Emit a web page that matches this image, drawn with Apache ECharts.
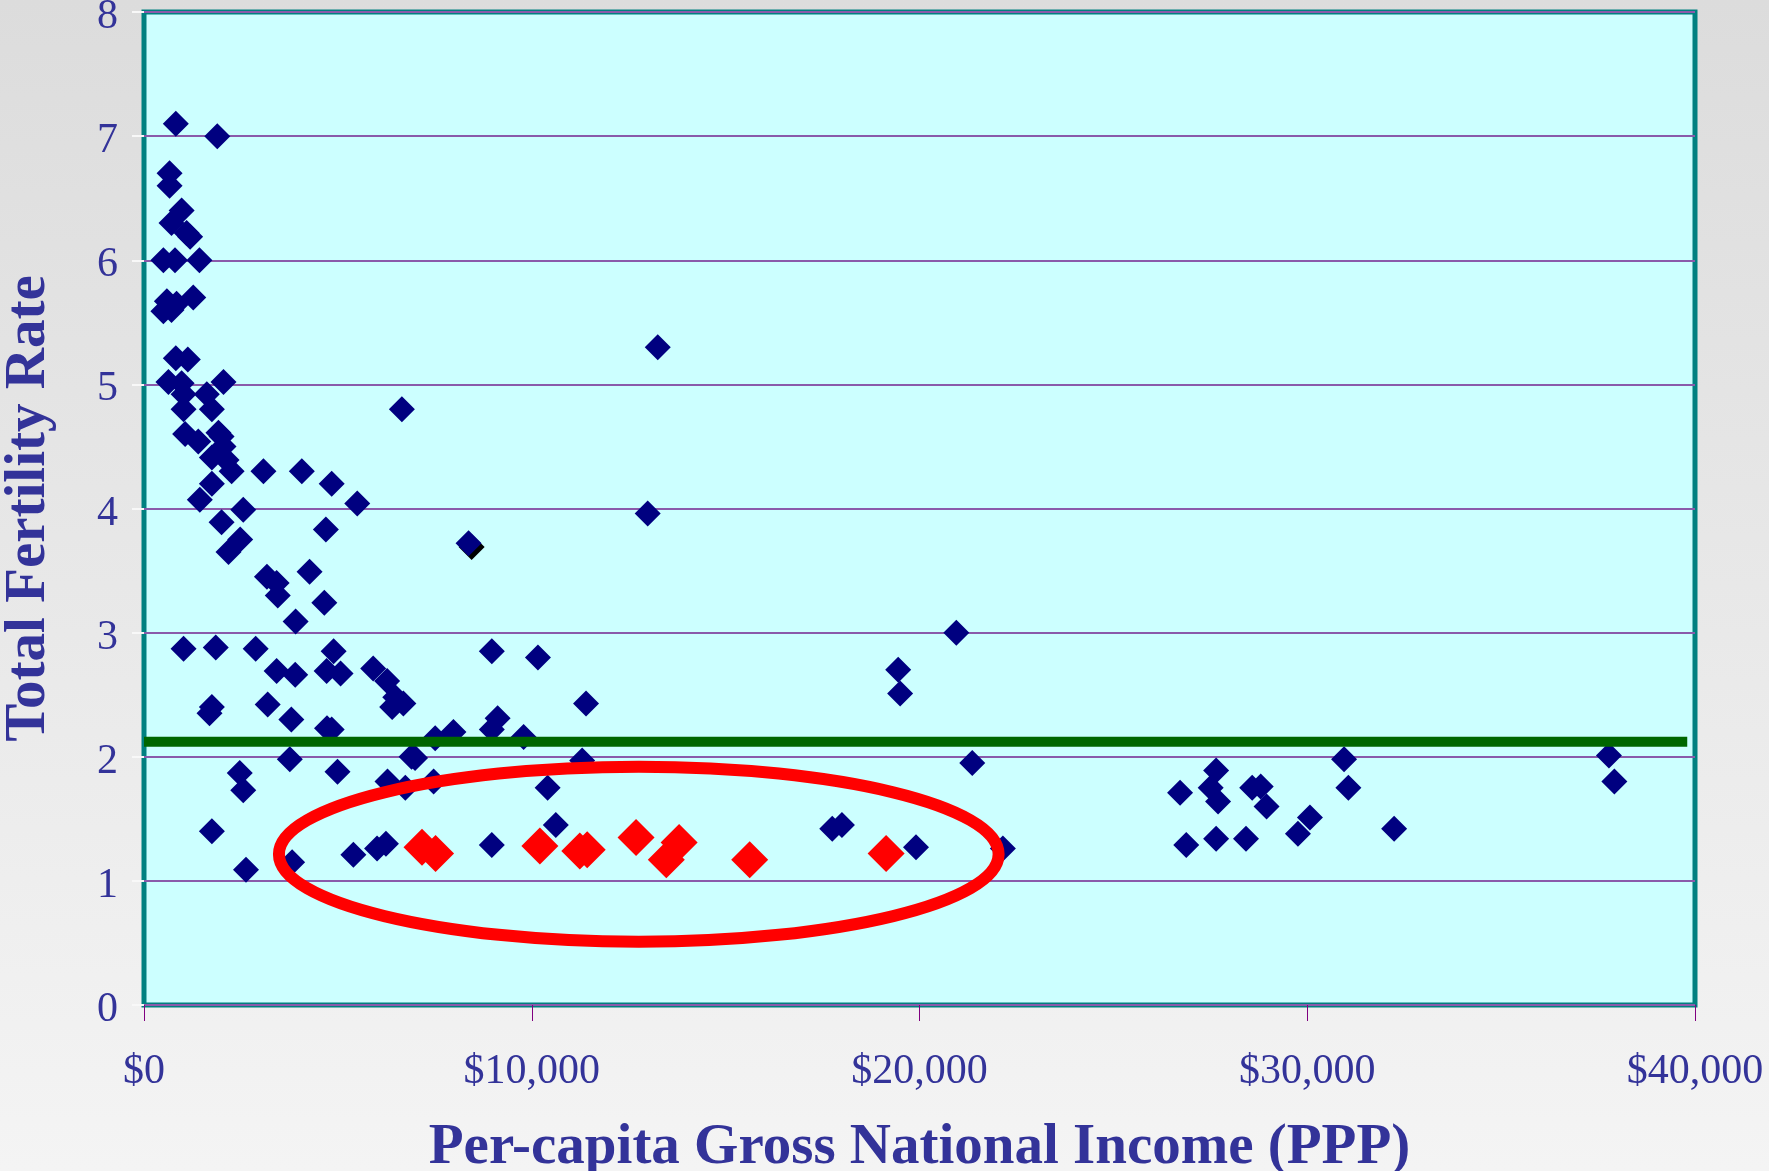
<!DOCTYPE html>
<html>
<head>
<meta charset="utf-8">
<title>Total Fertility Rate vs Per-capita GNI</title>
<script src="https://cdn.jsdelivr.net/npm/echarts@6/dist/echarts.min.js"></script>
<style>
  html, body { margin: 0; padding: 0; }
  #chart { width: 1769px; height: 1171px; }
</style>
</head>
<body>
<div id="chart"></div>
<script>
// [per-capita GNI (PPP, $), total fertility rate]
const countries = [
  [820, 7.1], [1890, 7.0], [660, 6.7], [660, 6.6],
  [970, 6.4], [710, 6.3], [1100, 6.22], [1190, 6.19],
  [500, 6.0], [800, 6.0], [1430, 6.0],
  [590, 5.67], [840, 5.65], [1270, 5.7], [500, 5.59], [710, 5.6],
  [820, 5.21], [1130, 5.2], [630, 5.02], [970, 5.01], [2050, 5.02],
  [1020, 4.92], [1620, 4.92], [1020, 4.8], [1750, 4.8], [6650, 4.8],
  [1060, 4.6], [1400, 4.54], [1920, 4.61], [2000, 4.58], [2050, 4.5],
  [1750, 4.41], [2130, 4.39], [2260, 4.3], [3080, 4.3], [4070, 4.3],
  [4840, 4.2], [1750, 4.2], [1440, 4.07], [5500, 4.04], [2560, 3.99],
  [2000, 3.89], [4690, 3.83], [2480, 3.75], [2180, 3.65], [8370, 3.72],
  [3170, 3.45], [3420, 3.4], [3450, 3.3], [4270, 3.49], [4650, 3.24], [3910, 3.09],
  [1020, 2.87], [1850, 2.88], [2880, 2.87], [4890, 2.85], [3420, 2.69],
  [3900, 2.66], [4710, 2.69], [5070, 2.67], [5910, 2.71], [6270, 2.61],
  [6480, 2.48], [6690, 2.43], [6400, 2.4],
  [1750, 2.4], [1690, 2.35], [3190, 2.42], [3800, 2.3], [4720, 2.23], [4840, 2.22],
  [8970, 2.85], [10160, 2.8], [11400, 2.43], [9120, 2.31], [8970, 2.22],
  [9790, 2.16], [7510, 2.15], [7980, 2.2],
  [3760, 1.98], [6900, 2.0], [6990, 1.99], [2470, 1.87], [2560, 1.73],
  [4990, 1.88], [6280, 1.8], [6740, 1.75], [7470, 1.8], [10410, 1.75], [11300, 1.97],
  [1750, 1.4], [2630, 1.09], [3820, 1.15], [5400, 1.21], [6010, 1.26],
  [6240, 1.3], [8970, 1.29], [10620, 1.45],
  [13250, 5.3], [12990, 3.96],
  [17750, 1.42], [18000, 1.45], [19450, 2.7], [19500, 2.51], [20950, 3.0],
  [21360, 1.95], [19910, 1.27], [22150, 1.26],
  [26720, 1.71], [27650, 1.89], [27510, 1.75], [27700, 1.64], [28580, 1.75],
  [28800, 1.76], [28950, 1.6], [26880, 1.29], [27650, 1.34], [28420, 1.34],
  [29760, 1.38], [30070, 1.51], [30950, 1.98], [31060, 1.75], [32240, 1.42],
  [37780, 2.01], [37920, 1.8],
]
const shadowPoint = [[8450, 3.69]]
const highlighted = [
  [7170, 1.27], [7520, 1.22], [10210, 1.28], [11240, 1.24], [11430, 1.25],
  [12690, 1.35], [13800, 1.31], [13470, 1.17], [15620, 1.17], [19140, 1.22],
]
const replacementRate = 2.12
const replacementSpan = [0, 39800]
// ellipse around the highlighted group, in data units
const ellipseBox = { left: 3480, right: 22040, top: 1.92, bottom: 0.51 }

const textColor = '#333399'
const fontFamily = "'Liberation Serif', 'Times New Roman', serif"

const chart = echarts.init(document.getElementById('chart'))

chart.setOption({
  animation: false,
  backgroundColor: {
    type: 'linear', x: 0, y: 0, x2: 0, y2: 1,
    colorStops: [
      { offset: 0, color: '#DCDCDC' },
      { offset: 1, color: '#F4F4F4' },
    ],
  },
  grid: {
    left: 144,
    top: 12,
    right: 74,
    bottom: 166,
    show: true,
    backgroundColor: '#CCFFFF',
    borderColor: '#008080',
    borderWidth: 5,
    outerBoundsMode: 'none',
  },
  xAxis: {
    type: 'value',
    min: 0,
    max: 40000,
    interval: 10000,
    name: 'Per-capita Gross National Income (PPP)',
    nameLocation: 'middle',
    nameGap: 115,
    nameTextStyle: { color: textColor, fontFamily, fontWeight: 'bold', fontSize: 57 },
    axisLine: { show: false },
    axisTick: { show: true, length: 16, lineStyle: { color: '#800080', width: 1 } },
    splitLine: { show: false },
    axisLabel: {
      color: textColor,
      fontFamily,
      fontSize: 42,
      margin: 46,
      formatter: (v) => '$' + v.toLocaleString('en-US'),
    },
  },
  yAxis: {
    type: 'value',
    min: 0,
    max: 8,
    interval: 1,
    name: 'Total Fertility Rate',
    nameLocation: 'middle',
    nameRotate: 90,
    nameGap: 86,
    nameTextStyle: { color: textColor, fontFamily, fontWeight: 'bold', fontSize: 57 },
    axisLine: { show: false },
    axisTick: { show: true, length: 12, lineStyle: { color: '#F8F8F8', width: 2 } },
    splitLine: { show: true, lineStyle: { color: '#8A5AAA', width: 2 } },
    axisLabel: {
      margin: 26,
      formatter: (v) => '{n|' + v + '}',
      rich: {
        n: { color: textColor, fontFamily, fontSize: 42, padding: [10, 0, 0, 0] },
      },
    },
  },
  series: [
    {
      name: 'shadow',
      type: 'scatter',
      symbol: 'diamond',
      symbolSize: 26,
      itemStyle: { color: '#000000', opacity: 1 },
      data: shadowPoint,
      z: 2,
    },
    {
      name: 'countries',
      type: 'scatter',
      symbol: 'diamond',
      symbolSize: 26,
      itemStyle: { color: '#000080', opacity: 1 },
      data: countries,
      z: 3,
    },
    {
      name: 'highlighted',
      type: 'scatter',
      symbol: 'diamond',
      symbolSize: 37,
      itemStyle: { color: '#FF0000', opacity: 1 },
      data: highlighted,
      z: 4,
    },
    {
      name: 'replacement',
      type: 'line',
      symbol: 'none',
      lineStyle: { color: '#006600', width: 10 },
      data: replacementSpan.map((x) => [x, replacementRate]),
      z: 5,
    },
  ],
})

// red ellipse annotation, placed from data units
const p0 = chart.convertToPixel({ gridIndex: 0 }, [ellipseBox.left, ellipseBox.top])
const p1 = chart.convertToPixel({ gridIndex: 0 }, [ellipseBox.right, ellipseBox.bottom])

chart.setOption({
  graphic: [
    {
      type: 'ellipse',
      z: 100,
      shape: {
        cx: (p0[0] + p1[0]) / 2,
        cy: (p0[1] + p1[1]) / 2,
        rx: Math.abs(p1[0] - p0[0]) / 2,
        ry: Math.abs(p1[1] - p0[1]) / 2,
      },
      style: { fill: 'none', stroke: '#FF0000', lineWidth: 12 },
    },
  ],
})
</script>
</body>
</html>
